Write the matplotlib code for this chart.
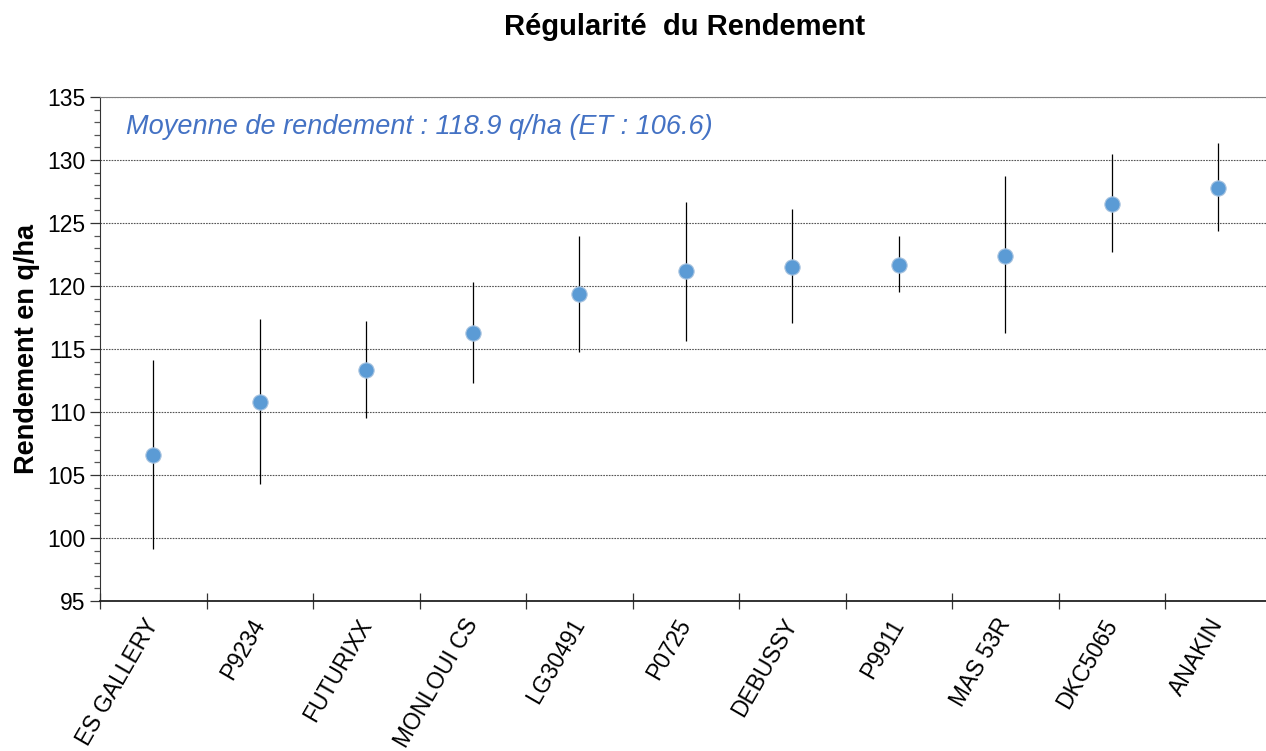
import numpy as np
import matplotlib
matplotlib.use('Agg')
from matplotlib import pyplot
from matplotlib import transforms
from matplotlib.ticker import MultipleLocator, FixedLocator, NullFormatter

pyplot.rcParams['font.family'] = ['Liberation Sans', 'DejaVu Sans']

# data
varietes = ['ES GALLERY', 'P9234', 'FUTURIXX', 'MONLOUI CS', 'LG30491', 'P0725',
            'DEBUSSY', 'P9911', 'MAS 53R', 'DKC5065', 'ANAKIN']
rendement = [106.6, 110.8, 113.3, 116.3, 119.4, 121.2, 121.5, 121.7, 122.4, 126.5, 127.8]
haut      = [114.1, 117.4, 117.2, 120.3, 124.0, 126.7, 126.1, 124.0, 128.7, 130.5, 131.35]
bas       = [99.1, 104.3, 109.5, 112.3, 114.8, 115.6, 117.1, 119.5, 116.3, 122.7, 124.4]

y    = np.array(rendement)
yerr = [y - np.array(bas), np.array(haut) - y]
x    = np.arange(len(varietes))

fig = pyplot.figure(figsize=(12.66, 7.51), dpi=100)
ax  = fig.add_axes([100/1266, 1-601/751, 1171.5/1266, 504/751])

ax.errorbar(x, y, yerr=yerr, fmt='none', ecolor='k', elinewidth=0.9, capsize=0, zorder=2)
ax.plot(x, y, 'o', color='#5B9BD5', markersize=11, markeredgecolor='#A9C4E0',
        markeredgewidth=0.8, zorder=3)

ax.set_xlim(-0.5, len(varietes)-0.5)
ax.set_ylim(95, 135)
ax.yaxis.set_major_locator(MultipleLocator(5))
ax.yaxis.set_minor_locator(MultipleLocator(1))
ax.grid(axis='y', which='major', color='#555555', ls=(0, (1.5, 1)), lw=0.8)
ax.set_axisbelow(True)

# category labels at centres, ticks at boundaries
ax.set_xticks(x)
ax.set_xticklabels(varietes, rotation=60, ha='right', va='center', rotation_mode='anchor', fontsize=16.5)
shift = transforms.ScaledTranslation(-10/100, -2/100, fig.dpi_scale_trans)
for lab in ax.get_xticklabels():
    lab.set_transform(lab.get_transform() + shift)
ax.xaxis.set_minor_locator(FixedLocator(np.arange(-0.5, len(varietes), 1)))
ax.xaxis.set_minor_formatter(NullFormatter())
ax.tick_params(axis='x', which='major', length=0, pad=14)
ax.tick_params(axis='x', which='minor', direction='inout', length=11, width=0.9, color='#333333')
ax.tick_params(axis='y', which='major', length=7, width=0.9, labelsize=16.5, color='#333333')
ax.tick_params(axis='y', which='minor', length=4, width=0.9, color='#555555')

ax.spines['right'].set_visible(False)
ax.spines['top'].set_color('#808080')
ax.spines['left'].set_color('#333333')
ax.spines['bottom'].set_color('#222222')
ax.spines['bottom'].set_linewidth(1.3)

ax.set_ylabel('Rendement en q/ha', fontsize=19.5, fontweight='bold', labelpad=5)
fig.text(685/1266, 1-27/751, 'Régularité  du Rendement', ha='center', va='center',
         fontsize=21, fontweight='bold')
ax.text(0.022, 0.94, 'Moyenne de rendement : 118.9 q/ha (ET : 106.6)', transform=ax.transAxes,
        color='#4472C4', fontsize=19.5, style='italic', ha='left', va='center')

fig.savefig('out.png', dpi=100)
